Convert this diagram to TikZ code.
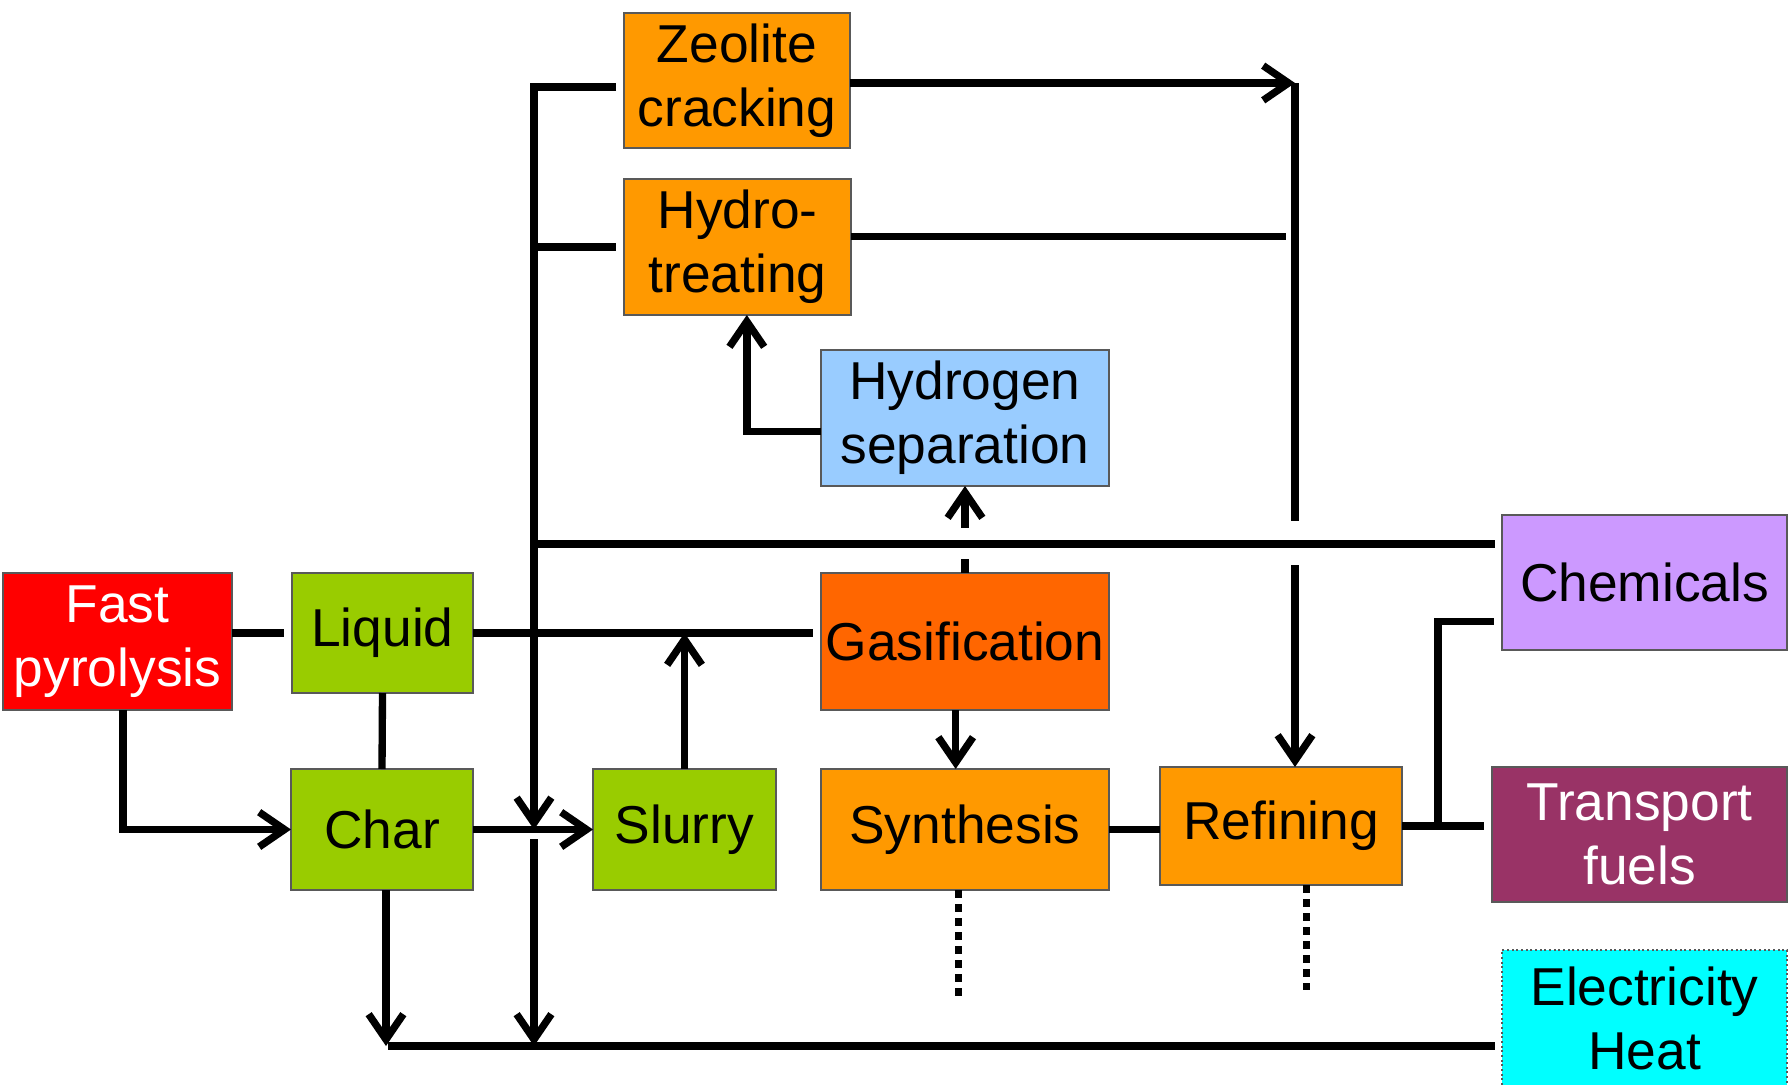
\documentclass[tikz,border=0pt]{standalone}
\usepackage{fontspec}
\setmainfont{Liberation Sans}
\usetikzlibrary{arrows.meta}

\definecolor{boxgray}{RGB}{89,89,89}
\definecolor{pyrored}{RGB}{255,0,0}
\definecolor{leafgreen}{RGB}{153,204,0}
\definecolor{gasorange}{RGB}{255,102,0}
\definecolor{procorange}{RGB}{255,153,0}
\definecolor{skyblue}{RGB}{153,204,255}
\definecolor{lilac}{RGB}{204,153,255}
\definecolor{plum}{RGB}{153,51,102}
\definecolor{cyanbox}{RGB}{0,255,255}

\tikzset{every picture/.style={line width=5.5pt}}
\tikzset{
  unit/.style={draw=boxgray, line width=1.5pt, inner sep=0pt, outer sep=0pt, align=center,
    font=\fontsize{40pt}{48pt}\selectfont},
  flow/.style={-{Straight Barb[length=19pt,width=26pt]}},
  dots/.style={dash pattern=on 6pt off 4.5pt},
}

\begin{document}
\begin{tikzpicture}[x=0.75pt,y=0.75pt,yscale=-1,xscale=1]
	\useasboundingbox (0,0) rectangle (1789,1085);

	%Shape: Rectangle [fast pyrolysis]
	\node[unit, fill=pyrored, text=white, minimum width=171.75pt, minimum height=102.75pt] (fast) at (117.5,641.5) {Fast\\pyrolysis};
	%Shape: Rectangle [liquid, char, slurry]
	\node[unit, fill=leafgreen, minimum width=135.75pt, minimum height=90pt] (liquid) at (382.5,633) {Liquid};
	\node[unit, fill=leafgreen, minimum width=136.5pt, minimum height=90.75pt] (char) at (382,829.5) {Char};
	\node[unit, fill=leafgreen, minimum width=137.25pt, minimum height=90.75pt] (slurry) at (684.5,829.5) {Slurry};
	%Shape: Rectangle [gasification]
	\node[unit, fill=gasorange, minimum width=216pt, minimum height=102.75pt] (gasif) at (965,641.5) {Gasification};
	%Shape: Rectangle [upgrading]
	\node[unit, fill=procorange, minimum width=216pt, minimum height=90.75pt] (synth) at (965,829.5) {Synthesis};
	\node[unit, fill=procorange, minimum width=181.5pt, minimum height=88.5pt] (refin) at (1281,826) {Refining};
	\node[unit, fill=procorange, minimum width=169.5pt, minimum height=101.25pt] (zeol) at (737,80.5) {Zeolite\\cracking};
	\node[unit, fill=procorange, minimum width=170.25pt, minimum height=102pt] (hydro) at (737.5,247) {Hydro-\\treating};
	%Shape: Rectangle [hydrogen separation]
	\node[unit, fill=skyblue, minimum width=216pt, minimum height=102pt] (hsep) at (965,418) {Hydrogen\\separation};
	%Shape: Rectangle [products]
	\node[unit, fill=lilac, minimum width=213.75pt, minimum height=101.25pt] (chem) at (1644.5,582.5) {Chemicals};
	\node[unit, fill=plum, text=white, minimum width=221.25pt, minimum height=101.25pt] (trans) at (1639.5,834.5) {Transport\\fuels};
	\node[unit, fill=cyanbox, dotted, line width=1pt, minimum width=213.75pt, minimum height=102.75pt] (elec) at (1644.5,1018.5) {Electricity\\Heat};

	%Coordinates [buses]
	\coordinate (bustop) at (534,87);
	\coordinate (busmid) at (534,544);
	\coordinate (buslow) at (534,839);
	\coordinate (heatbus) at (388,1046);
	\coordinate (rtop) at (1295,83);
	\coordinate (rcut) at (1295,521);
	\coordinate (rgap) at (1295,565);
	\coordinate (split) at (1438,826);

	%Straight Lines [pyrolysis products]
	\draw[shorten >=6pt] (fast.east |- liquid.west) -- (liquid.west);
	\draw[flow] ([xshift=4pt]fast.south) |- (char.west);
	\draw (liquid.south) -- (char.north);
	\draw[shorten >=6pt] (liquid.east) -- (liquid.east -| gasif.west);
	\draw[flow] (slurry.north) -- (slurry.north |- liquid.east);
	\draw[flow] (char.east) -- (slurry.west);

	%Straight Lines [left bus]
	\draw[flow, shorten <=6pt] (zeol.west |- bustop) -- (bustop) -- (bustop |- char.east);
	\draw[shorten >=6pt] (bustop |- hydro.west) -- (hydro.west);
	\draw[flow] (buslow) -- (buslow |- heatbus);
	\draw[flow] ([xshift=3pt]char.south) -- ([xshift=3pt]char.south |- heatbus);
	\draw[shorten >=5pt] (heatbus) -- (heatbus -| elec.west);
	\draw[shorten >=5pt] (busmid) -- (busmid -| chem.west);

	%Straight Lines [upgrading to refining]
	\draw[flow] (zeol.east |- rtop) -- (rtop);
	\draw (rtop) -- (rcut);
	\draw[flow] (rgap) -- (rgap |- refin.north);
	\draw ([yshift=-8pt]hydro.east) -- +(326pt,0);
	\draw[flow] ([yshift=10pt]hsep.west) -| ([xshift=7pt]hydro.south);

	%Straight Lines [gas route]
	\draw (gasif.north) -- ++(0,-14);
	\draw[flow] ([yshift=-34pt]gasif.north) -- (hsep.south);
	\draw[flow] ([xshift=-7pt]gasif.south) -- ([xshift=-7pt]synth.north);
	\draw (synth.east) -- (synth.east -| refin.west);
	\draw[shorten >=6pt] (refin.east) -- (refin.east -| trans.west);
	\draw[shorten >=6pt] (split) |- ([yshift=29pt]chem.west);

	%Dotted Lines
	\draw[dots] ([xshift=-5pt]synth.south) -- ++(0,108);
	\draw[dots] ([xshift=19pt]refin.south) -- ++(0,105);

\end{tikzpicture}
\end{document}
